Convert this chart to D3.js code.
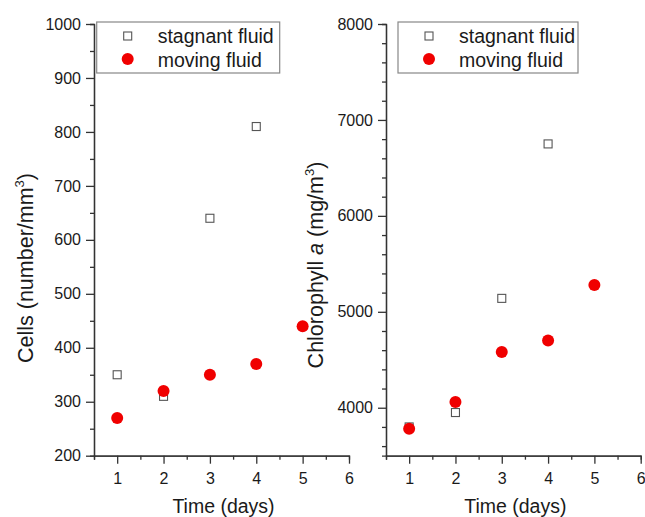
<!DOCTYPE html>
<html>
<head>
<meta charset="utf-8">
<script src="https://cdn.jsdelivr.net/npm/d3@7"></script>
<style>
  html, body { margin: 0; padding: 0; background: #fff; }
  svg { display: block; font-family: Arial, "Liberation Sans", sans-serif; }
</style>
</head>
<body>
<div id="chart"></div>
<script>
// --------------- Data ---------------
const days = [1, 2, 3, 4, 5];
const cellsStagnant = [350, 310, 640, 810];
const cellsMoving = [270, 320, 350, 370, 440];
const chlStagnant = [3800, 3950, 5140, 6750];
const chlMoving = [3780, 4060, 4580, 4700, 5280];

const xTicks = [1, 2, 3, 4, 5, 6];
const xMinor = [0.5, 1.5, 2.5, 3.5, 4.5, 5.5];
const cellsTicks = [200, 300, 400, 500, 600, 700, 800, 900, 1000];
const cellsMinor = [250, 350, 450, 550, 650, 750, 850, 950];
const chlTicks = [4000, 5000, 6000, 7000, 8000];
const chlMinor = [3600, 3800, 4200, 4400, 4600, 4800, 5200, 5400, 5600, 5800,
  6200, 6400, 6600, 6800, 7200, 7400, 7600, 7800];

const seriesNames = ["stagnant fluid", "moving fluid"];

// --------------- Constants ---------------
const WIDTH = 645;
const HEIGHT = 517;
const TOP = 24;
const BOTTOM = 455.7;
const RED = "#f00000";
const SQUARE_STROKE = "#555";
const AXIS_COLOR = "#333";
const TEXT_COLOR = "#1a1a1a";

const svg = d3
  .select("#chart")
  .append("svg")
  .attr("width", WIDTH)
  .attr("height", HEIGHT);

function styleAxis(g) {
  g.selectAll("path, line").attr("stroke", AXIS_COLOR).attr("stroke-width", 1.3);
  g.selectAll("text")
    .attr("fill", TEXT_COLOR)
    .style("font-size", "16px")
    .style("font-family", "Arial, 'Liberation Sans', sans-serif");
}

function renderPanel(opts) {
  const x = d3.scaleLinear().domain([0.5, 6]).range([opts.left, opts.right]);
  const y = d3.scaleLinear().domain(opts.yDomain).range([BOTTOM, TOP]);
  const g = svg.append("g");

  // minor ticks
  g.append("g")
    .attr("transform", `translate(${opts.left},0)`)
    .call(d3.axisLeft(y).tickValues(opts.yMinor).tickSize(4).tickFormat(""))
    .call(styleAxis);
  g.append("g")
    .attr("transform", `translate(0,${BOTTOM})`)
    .call(d3.axisBottom(x).tickValues(xMinor).tickSize(4).tickFormat(""))
    .call(styleAxis);

  // major ticks
  g.append("g")
    .attr("transform", `translate(${opts.left},0)`)
    .call(
      d3.axisLeft(y).tickValues(opts.yTicks).tickSizeInner(8).tickSizeOuter(0)
        .tickPadding(5).tickFormat(d3.format("d"))
    )
    .call(styleAxis);
  g.append("g")
    .attr("transform", `translate(0,${BOTTOM})`)
    .call(
      d3.axisBottom(x).tickValues(xTicks).tickSizeInner(8).tickSizeOuter(0)
        .tickPadding(9).tickFormat(d3.format("d"))
    )
    .call(styleAxis);

  // axis titles
  g.append("text")
    .attr("x", (opts.left + opts.right) / 2 + 2)
    .attr("y", 513)
    .attr("text-anchor", "middle")
    .attr("fill", TEXT_COLOR)
    .style("font-size", "19.5px")
    .text("Time (days)");

  const yTitle = g.append("text")
    .attr("transform", `translate(${opts.titleX},${opts.titleY}) rotate(-90)`)
    .attr("text-anchor", "middle")
    .attr("fill", TEXT_COLOR)
    .style("font-size", "21.5px");
  opts.yTitle(yTitle);

  // data
  g.append("g")
    .selectAll("rect")
    .data(opts.stagnant)
    .join("rect")
    .attr("x", (d, i) => x(days[i]) - 4)
    .attr("y", (d) => y(d) - 4)
    .attr("width", 8)
    .attr("height", 8)
    .attr("fill", "#fff")
    .attr("stroke", SQUARE_STROKE)
    .attr("stroke-width", 1.1);

  g.append("g")
    .selectAll("circle")
    .data(opts.moving)
    .join("circle")
    .attr("cx", (d, i) => x(days[i]))
    .attr("cy", (d) => y(d))
    .attr("r", 6)
    .attr("fill", RED);

  // legend
  const lg = g.append("g").attr("transform", `translate(${opts.legendX},22)`);
  lg.append("rect")
    .attr("width", opts.legendW)
    .attr("height", 51)
    .attr("fill", "#fff")
    .attr("stroke", "#888")
    .attr("stroke-width", 1.2);
  lg.append("rect")
    .attr("x", 31 - 4)
    .attr("y", 14 - 4)
    .attr("width", 8)
    .attr("height", 8)
    .attr("fill", "#fff")
    .attr("stroke", SQUARE_STROKE)
    .attr("stroke-width", 1.1);
  lg.append("circle")
    .attr("cx", 31)
    .attr("cy", 37)
    .attr("r", 6)
    .attr("fill", RED);
  lg.selectAll("text.legend")
    .data(seriesNames)
    .join("text")
    .attr("class", "legend")
    .attr("x", 61)
    .attr("y", (d, i) => 20.5 + i * 24.5)
    .attr("fill", TEXT_COLOR)
    .style("font-size", "19.5px")
    .text((d) => d);
}

renderPanel({
  left: 94,
  right: 349,
  yDomain: [200, 1000],
  yTicks: cellsTicks,
  yMinor: cellsMinor,
  stagnant: cellsStagnant,
  moving: cellsMoving,
  legendX: 96.7,
  legendW: 183,
  titleX: 33,
  titleY: 268,
  yTitle: (t) => {
    t.append("tspan").text("Cells (number/mm");
    t.append("tspan").attr("dy", -9).style("font-size", "13px").text("3");
    t.append("tspan").attr("dy", 9).text(")");
  },
});

renderPanel({
  left: 386,
  right: 640.7,
  yDomain: [3500, 8000],
  yTicks: chlTicks,
  yMinor: chlMinor,
  stagnant: chlStagnant,
  moving: chlMoving,
  legendX: 398,
  legendW: 180,
  titleX: 323,
  titleY: 265,
  yTitle: (t) => {
    t.append("tspan").text("Chlorophyll ");
    t.append("tspan").style("font-style", "italic").text("a");
    t.append("tspan").text(" (mg/m");
    t.append("tspan").attr("dy", -9).style("font-size", "13px").text("3");
    t.append("tspan").attr("dy", 9).text(")");
  },
});
</script>
</body>
</html>
